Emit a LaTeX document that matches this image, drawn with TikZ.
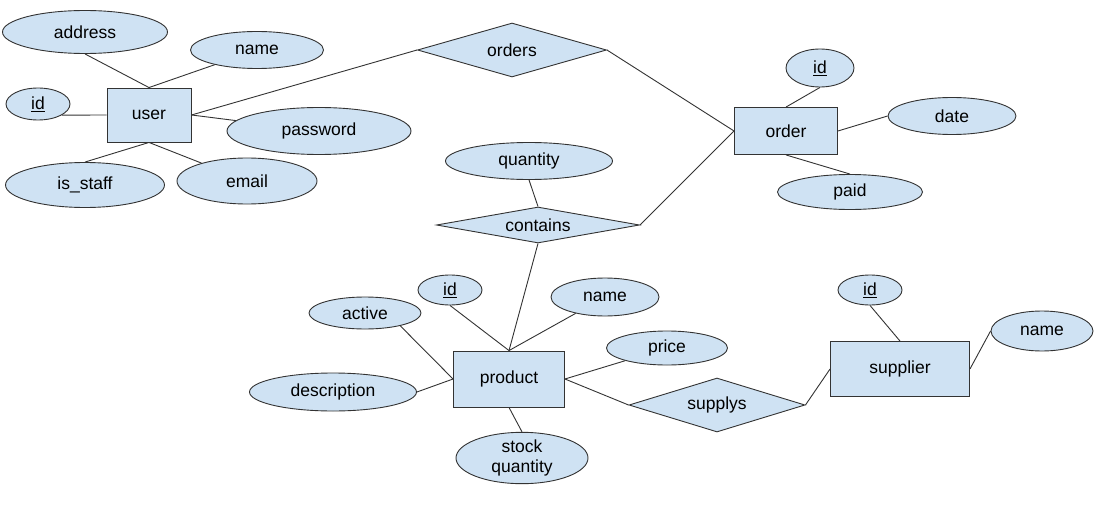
\documentclass[tikz,border=0pt]{standalone}
\usepackage{fontspec}
\setmainfont{Liberation Sans}
\usepackage{xcolor}
\usepackage{tikz}
\usetikzlibrary{shapes.geometric}
\definecolor{erfill}{HTML}{CFE2F3}
\definecolor{erline}{HTML}{333333}

\begin{document}
\begin{tikzpicture}[x=1pt,y=-1pt,line width=0.9pt,
	font=\fontsize{17.5}{20}\selectfont,
	attrib/.style={ellipse,draw=erline,fill=erfill,inner sep=0pt,align=center},
	entity/.style={rectangle,draw=erline,fill=erfill,inner sep=0pt},
	relat/.style={diamond,aspect=6,draw=erline,fill=erfill,inner sep=0pt}]
	\useasboundingbox[fill=white] (0,0) rectangle (1102,508);
	% entities
	\foreach \n/\x/\y/\w/\h/\t in {user/149/115/84/54/user, order/786/131/103/47/order, product/509/379/111/56/product, supplier/900/369/139/55/supplier}
	{\node[entity,minimum width=\w,minimum height=\h] (\n) at (\x,\y) {\t};}
	% relationships
	\foreach \n/\x/\y/\w/\h in {orders/512/50/189/54, contains/538/225/203/36, supplys/717/405/176/54}
	{\node[relat,minimum width=\w,minimum height=\h] (\n) at (\x,\y) {\n};}
	% attributes
	\foreach \n/\x/\y/\w/\h/\t in {uaddr/85/32/165/43/address, uname/257/50/133/37/name, uid/38/104/64/32/{\underline{id}}, upass/319/131/184/47/password, ustaff/85/185/159/45/{is\_staff}, umail/247/181/140/46/email,
		oid/820/68/68/38/{\underline{id}}, odate/952/116/128/37/date, opaid/850/192/145/35/paid, qty/529/161/167/37/quantity,
		pid/450/290/64/30/{\underline{id}}, pname/605/297/108/38/name, pactive/365/313/112/32/active, pprice/667/348/121/34/price, pdesc/333/392/167/38/description, pstock/522/458/132/50/{stock\\quantity},
		sid/870/290/64/30/{\underline{id}}, sname/1042/331/102/40/name}
	{\node[attrib,minimum width=\w,minimum height=\h] (\n) at (\x,\y) {\t};}
	% connectors
	\foreach \a/\b in {uaddr.south/user.north, uname/user.north, uid.-25/user.west, upass/user.east, ustaff.north/user.south, umail/user.south,
		user.east/orders.west, orders.east/order.west, contains.east/order.west,
		oid.south/order.north, odate.west/order.east, opaid.north/order.south, qty.south/contains.north,
		contains.south/product.north, pid.south/product.north, pname/product.north, pactive.-20/product.west, pdesc.east/product.west, pprice/product.east, pstock.north/product.south,
		product.east/supplys.west, supplys.east/supplier.west, sid.south/supplier.north, sname.west/supplier.east}
	{\draw[erline] (\a) -- (\b);}
\end{tikzpicture}
\end{document}
